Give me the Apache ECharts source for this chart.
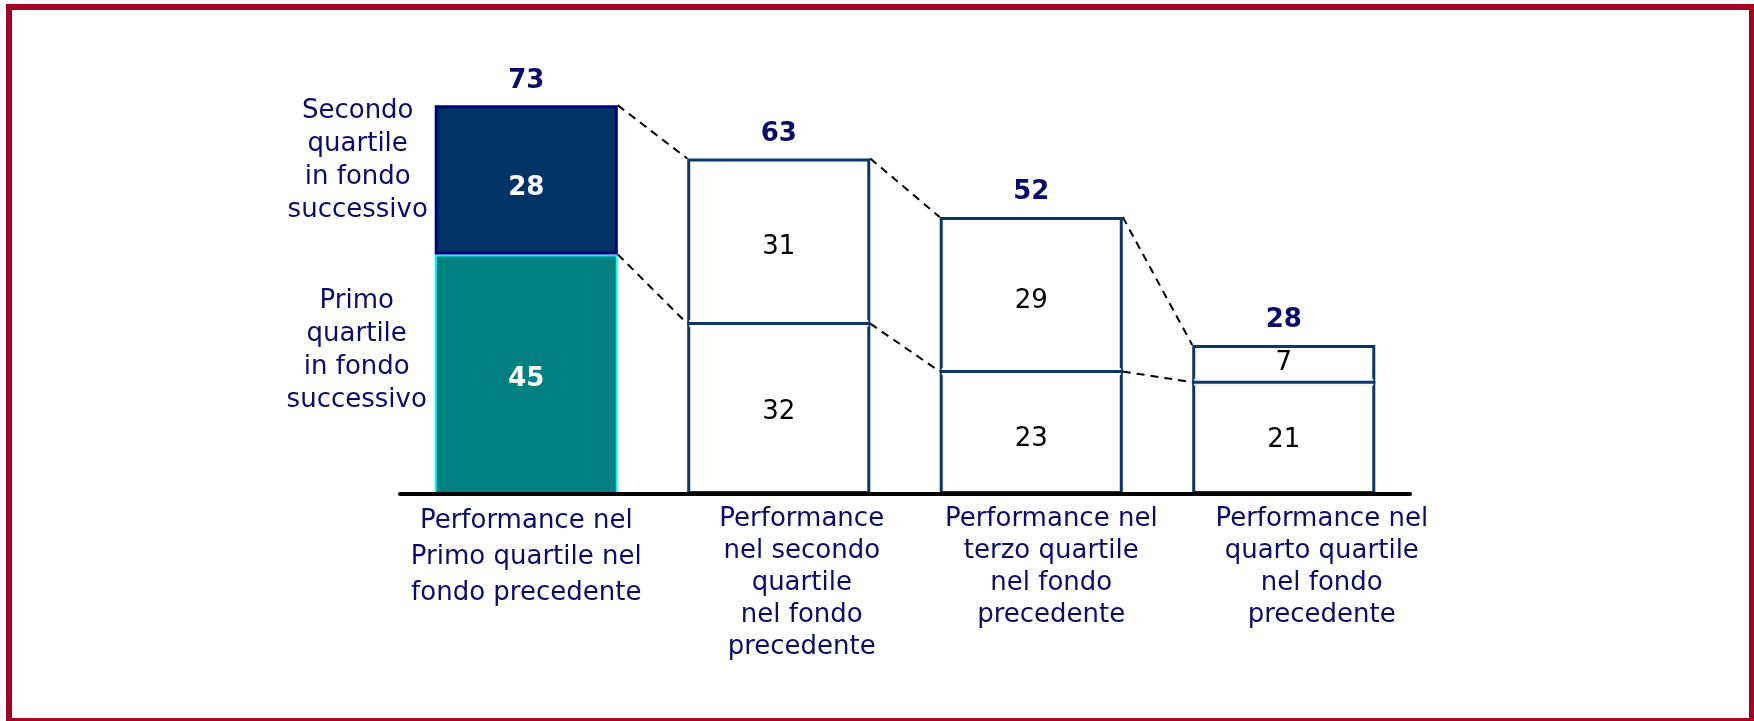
<!DOCTYPE html>
<html><head><meta charset="utf-8">
<script src="https://cdn.jsdelivr.net/npm/echarts/dist/echarts.min.js"></script>
<style>
html,body{margin:0;padding:0;background:#fff;overflow:hidden}
#chart{position:absolute;left:0;top:0;width:1754px;height:721px}
#frame{position:absolute;left:6px;top:4px;width:1749px;height:720px;box-sizing:border-box;border:6px solid #A50021;pointer-events:none}
</style></head><body>
<div id="chart"></div><div id="frame"></div>
<script>
const categories = [
  'Performance nel\nPrimo quartile nel\nfondo precedente',
  'Performance\nnel secondo\nquartile\nnel fondo\nprecedente',
  'Performance nel\nterzo quartile\nnel fondo\nprecedente',
  'Performance nel\nquarto quartile\nnel fondo\nprecedente'
];
const primoQuartile = [45, 32, 23, 21];
const secondoQuartile = [28, 31, 29, 7];
const totals = [73, 63, 52, 28];
const seriesNames = ['Primo\nquartile\nin fondo\nsuccessivo', 'Secondo\nquartile\nin fondo\nsuccessivo'];

const FONT = 'DejaVu Sans';
const NAVY = '#0B0B6B';
const BOX = '#0B3768';
const BAR_RATIO = 0.725;
const labelShift = [0, 46, 40, 76];
const labelLH = [36, 32, 32, 32];
const bottomOffsets = [5, 3, 6, 2];
const topOffsets = [8, 6, 7, 0];

const chart = echarts.init(document.getElementById('chart'), null, {renderer: 'canvas'});

const rich = {};
labelShift.forEach((p, i) => {
  rich['c' + i] = {fontFamily: FONT, fontSize: 26, color: NAVY, lineHeight: labelLH[i], padding: [0, 0, 0, p]};
});

const option = {
  animation: false,
  backgroundColor: '#fff',
  grid: {left: 400, right: 344, top: 68, bottom: 227},
  xAxis: {
    type: 'category',
    data: categories,
    z: 10,
    axisTick: {show: false},
    axisLine: {lineStyle: {color: '#000', width: 4}},
    axisLabel: {
      interval: 0,
      margin: 9,
      formatter: (v, i) => v.split('\n').map(l => '{c' + i + '|' + l + '}').join('\n'),
      rich: rich
    }
  },
  yAxis: {type: 'value', min: 0, max: 80, show: false, splitLine: {show: false}},
  series: [
    {
      name: 'Primo quartile in fondo successivo',
      type: 'bar', stack: 'tot', barWidth: (BAR_RATIO * 100) + '%', z: 2,
      label: {show: true, position: 'inside', fontFamily: FONT, fontSize: 26, color: '#000'},
      data: primoQuartile.map((v, i) => i === 0 ? {
        value: v,
        itemStyle: {color: '#008080', borderColor: '#00FFFF', borderWidth: 2},
        label: {color: '#fff', fontWeight: 'bold', offset: [0, bottomOffsets[i]]}
      } : {
        value: v,
        itemStyle: {color: '#fff', borderColor: BOX, borderWidth: 3},
        label: {offset: [0, bottomOffsets[i]]}
      })
    },
    {
      name: 'Secondo quartile in fondo successivo',
      type: 'bar', stack: 'tot', barWidth: (BAR_RATIO * 100) + '%', z: 3,
      label: {show: true, position: 'inside', fontFamily: FONT, fontSize: 26, color: '#000'},
      data: secondoQuartile.map((v, i) => i === 0 ? {
        value: v,
        itemStyle: {color: '#003366', borderColor: '#000080', borderWidth: 3},
        label: {color: '#fff', fontWeight: 'bold', offset: [0, topOffsets[i]]}
      } : {
        value: v,
        itemStyle: {color: '#fff', borderColor: BOX, borderWidth: 3},
        label: {offset: [0, topOffsets[i]]}
      })
    },
    {
      type: 'scatter', symbolSize: 1, silent: true, z: 5,
      itemStyle: {color: 'transparent', opacity: 1},
      label: {show: true, position: 'top', distance: 11, fontFamily: FONT, fontSize: 26, fontWeight: 'bold', color: NAVY, opacity: 1},
      emphasis: {disabled: true},
      data: totals
    },
    {
      type: 'custom', silent: true, z: 4,
      encode: {x: 0, y: 1},
      data: [[1, 0], [2, 0], [3, 0]],
      renderItem: function (params, api) {
        const i = api.value(0);
        const hw = api.size([1, 0])[0] * BAR_RATIO / 2;
        const c = api.coord([i, primoQuartile[i]]);
        return {type: 'group', children: [
          {type: 'line', shape: {x1: c[0] - hw + 2, y1: c[1], x2: c[0] + hw - 2, y2: c[1]},
            style: {stroke: '#fff', lineWidth: 7, fill: null}},
          {type: 'line', shape: {x1: c[0] - hw, y1: c[1], x2: c[0] + hw, y2: c[1]},
            style: {stroke: BOX, lineWidth: 3, fill: null}}
        ]};
      }
    },
    {
      type: 'custom', silent: true, z: 6,
      encode: {x: 0, y: 1},
      data: [[0, 0], [1, 0], [2, 0]],
      renderItem: function (params, api) {
        const i = api.value(0);
        const hw = api.size([1, 0])[0] * BAR_RATIO / 2;
        const a1 = api.coord([i, totals[i]]), b1 = api.coord([i + 1, totals[i + 1]]);
        const a2 = api.coord([i, primoQuartile[i]]), b2 = api.coord([i + 1, primoQuartile[i + 1]]);
        const style = {stroke: '#000', lineWidth: 2, lineDash: [8, 6], fill: null};
        return {type: 'group', children: [
          {type: 'line', shape: {x1: a1[0] + hw, y1: a1[1], x2: b1[0] - hw, y2: b1[1]}, style: style},
          {type: 'line', shape: {x1: a2[0] + hw, y1: a2[1], x2: b2[0] - hw, y2: b2[1]}, style: style}
        ]};
      }
    },
    {
      type: 'custom', silent: true, z: 6,
      encode: {x: 0, y: 1},
      data: [[0, 0]],
      renderItem: function (params, api) {
        const hw = api.size([1, 0])[0] * BAR_RATIO / 2;
        const c0 = api.coord([0, primoQuartile[0] / 2]);
        const c1 = api.coord([0, primoQuartile[0] + secondoQuartile[0] / 2]);
        const ts = {fontFamily: FONT, fontSize: 26, fill: NAVY, align: 'center', verticalAlign: 'middle', lineHeight: 33};
        return {type: 'group', children: [
          {type: 'text', x: c0[0] - hw - 78, y: c0[1] - 23, style: Object.assign({text: seriesNames[0]}, ts)},
          {type: 'text', x: c1[0] - hw - 77, y: c1[1] - 19, style: Object.assign({text: seriesNames[1]}, ts)}
        ]};
      }
    }
  ]
};
chart.setOption(option);
</script>
</body></html>
